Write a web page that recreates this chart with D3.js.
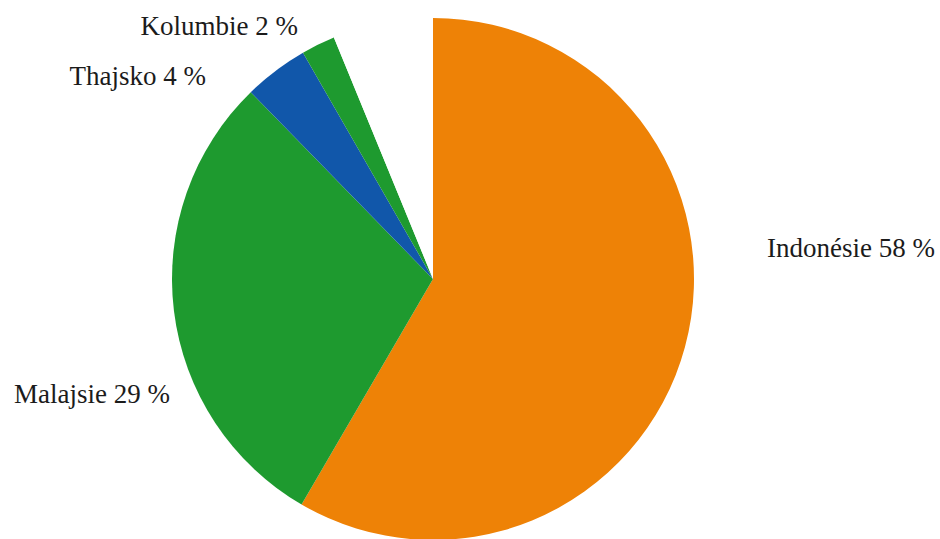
<!DOCTYPE html>
<html>
<head>
<meta charset="utf-8">
<script src="https://cdn.jsdelivr.net/npm/d3@7"></script>
<style>
    html, body { margin: 0; padding: 0; background: #fff; }
    svg { display: block; }
</style>
</head>
<body>
<div id="chart"></div>
<script>
// Data (share of production, %)
const countries = ["Indonésie", "Malajsie", "Thajsko", "Kolumbie", "Ostatní"];
const shares = [58.4, 29.3, 4.0, 2.1, 6.2];
const labels = ["Indonésie 58 %", "Malajsie 29 %", "Thajsko 4 %", "Kolumbie 2 %", ""];
const colors = ["#ee8206", "#1e9a2f", "#1157aa", "#1e9a2f", "#ffffff"];

// Label placement (anchor side + position), one per slice
const labelLayout = [
    {anchor: 'start', x: 767, y: 257},
    {anchor: 'end', x: 170, y: 403},
    {anchor: 'end', x: 206, y: 85},
    {anchor: 'end', x: 298, y: 35},
    null
];

const width = 940, height = 539;
const cx = 433, cy = 279, radius = 261;

const svg = d3.select('#chart').append('svg')
    .attr('width', width)
    .attr('height', height);

const pie = d3.pie()
    .sort(null)
    .value(d => d.value);

const arc = d3.arc()
    .innerRadius(0)
    .outerRadius(radius);

const data = countries.map((c, i) => ({name: c, value: shares[i], color: colors[i], label: labels[i]}));

const g = svg.append('g')
    .attr('transform', `translate(${cx},${cy})`);

g.selectAll('path')
    .data(pie(data))
    .join('path')
    .attr('d', arc)
    .attr('fill', d => d.data.color);

// Labels
svg.selectAll('text.slice-label')
    .data(data.filter((d, i) => labelLayout[i]).map((d, i) => ({...d, pos: labelLayout[i]})))
    .join('text')
    .attr('class', 'slice-label')
    .attr('x', d => d.pos.x)
    .attr('y', d => d.pos.y)
    .attr('text-anchor', d => d.pos.anchor)
    .attr('font-family', "'Liberation Serif', 'DejaVu Serif', serif")
    .attr('font-size', 27)
    .attr('fill', '#1b1b1b')
    .text(d => d.label);
</script>
</body>
</html>
